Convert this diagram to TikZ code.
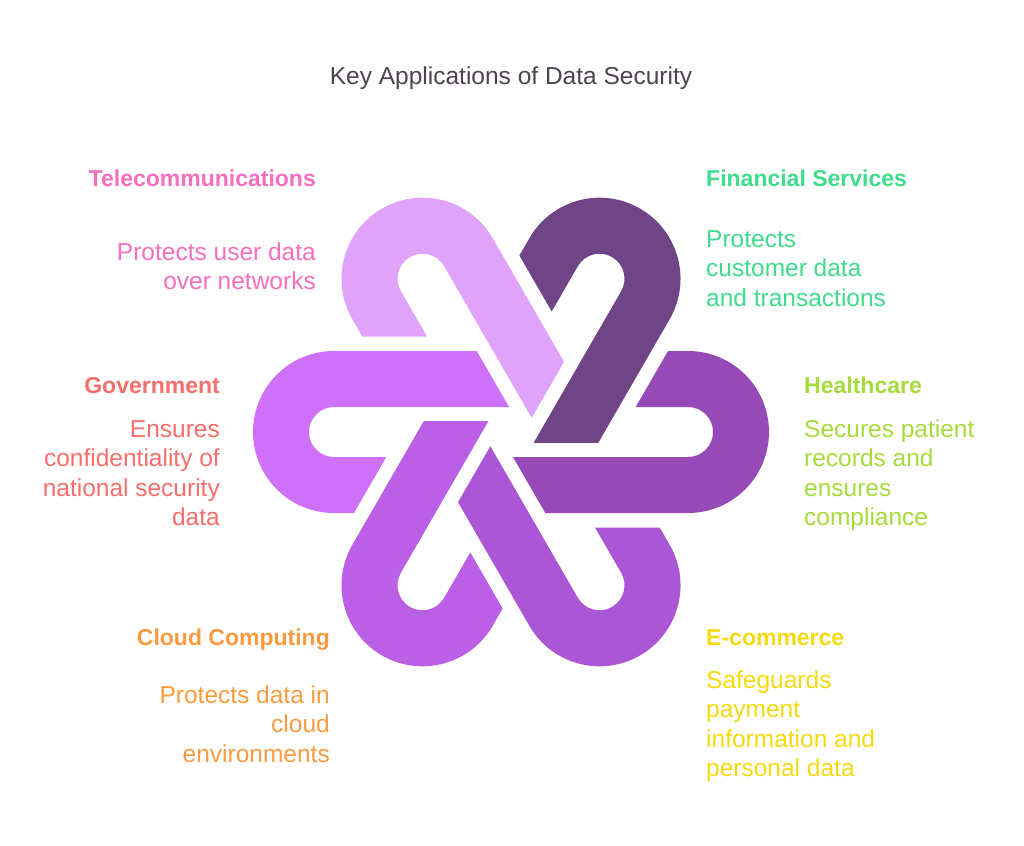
\documentclass[tikz,border=0pt]{standalone}
\usepackage{fontspec}
\setmainfont{Liberation Sans}
\definecolor{cTel}{HTML}{E0A3FC}
\definecolor{cFin}{HTML}{6F4586}
\definecolor{cHea}{HTML}{954AB8}
\definecolor{cEco}{HTML}{AB56D4}
\definecolor{cClo}{HTML}{BA5FE6}
\definecolor{cGov}{HTML}{CF70FB}
\definecolor{tTel}{HTML}{F56FBF}
\definecolor{tGov}{HTML}{F86E6B}
\definecolor{tClo}{HTML}{FA9B40}
\definecolor{tFin}{HTML}{3FDC8E}
\definecolor{tHea}{HTML}{A6DB3C}
\definecolor{tEco}{HTML}{F6DA0E}
\definecolor{tTitle}{HTML}{4D444F}
\begin{document}
\begin{tikzpicture}[x=1pt,y=1pt,
  hook/.pic={\fill[pic actions] (-34.30,81) -- (-177,81)
      arc[start angle=90,end angle=270,radius=81] -- (-157.04,-81) -- (-124.71,-25) -- (-177,-25)
      arc[start angle=270,end angle=90,radius=25] -- (-1.96,25) -- cycle;},
  head/.style={font=\fontsize{23}{28}\selectfont\bfseries, inner sep=0},
  desc/.style={font=\fontsize{24.5}{29.4}\selectfont, inner sep=0},
]
\useasboundingbox (0,0) rectangle (1024,-845);
\fill[white] (0,0) rectangle (1024,-845);
\begin{scope}[shift={(511,-432)}]
  \pic[fill=cGov] (gov) at (0,0) {hook};
  \pic[fill=cTel, rotate=-60] (tel) at (0,0) {hook};
  \pic[fill=cFin, rotate=-120] (fin) at (0,0) {hook};
  \pic[fill=cHea, rotate=180] (hea) at (0,0) {hook};
  \pic[fill=cEco, rotate=120] (eco) at (0,0) {hook};
  \pic[fill=cClo, rotate=60] (clo) at (0,0) {hook};
\end{scope}
\node[desc, text=tTitle, anchor=base] (title) at (511,-84.3) {Key Applications of Data Security};
% left side
\node[head, text=tTel, anchor=base east] (telH) at (316,-186.7) {Telecommunications};
\node[desc, text=tTel, anchor=base east, align=right] (telD) at (316,-289.5) {Protects user data\\over networks};
\node[head, text=tGov, anchor=base east] (govH) at (220,-393.3) {Government};
\node[desc, text=tGov, anchor=base east, align=right] (govD) at (220,-525.5) {Ensures\\confidentiality of\\national security\\data};
\node[head, text=tClo, anchor=base east] (cloH) at (330,-645) {Cloud Computing};
\node[desc, text=tClo, anchor=base east, align=right] (cloD) at (330,-762) {Protects data in\\cloud\\environments};
% right side
\node[head, text=tFin, anchor=base west] (finH) at (706,-186.7) {Financial Services};
\node[desc, text=tFin, anchor=base west, align=left] (finD) at (706,-306) {Protects\\customer data\\and transactions};
\node[head, text=tHea, anchor=base west] (heaH) at (804,-393.3) {Healthcare};
\node[desc, text=tHea, anchor=base west, align=left] (heaD) at (804,-525.5) {Secures patient\\records and\\ensures\\compliance};
\node[head, text=tEco, anchor=base west] (ecoH) at (706,-645) {E-commerce};
\node[desc, text=tEco, anchor=base west, align=left] (ecoD) at (706,-776.5) {Safeguards\\payment\\information and\\personal data};
\end{tikzpicture}
\end{document}
